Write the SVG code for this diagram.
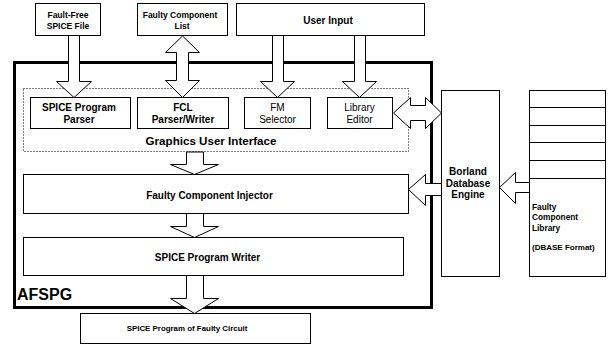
<svg xmlns="http://www.w3.org/2000/svg" width="608" height="355" viewBox="0 0 608 355">
  <style>
    .box { fill: #fff; stroke: #000; stroke-width: 1; }
    .arrow { fill: #fff; stroke: #000; stroke-width: 1; stroke-linejoin: miter; }
    .t { font-family: "Liberation Sans", Arial, sans-serif; fill: #000; text-anchor: middle; }
    .b { font-weight: bold; }
    .s85 { font-size: 8.5px; }
    .s10 { font-size: 10px; }
  </style>
  <rect width="608" height="355" fill="#fff"/>

  <!-- AFSPG frame -->
  <g id="afspg">
    <rect x="14.5" y="62.5" width="417" height="245" fill="none" stroke="#000" stroke-width="3"/>
    <text class="t b" x="17" y="300" font-size="16" text-anchor="start" style="text-anchor:start">AFSPG</text>
  </g>

  <!-- Graphics User Interface (dotted group) -->
  <g id="gui">
    <rect x="23.5" y="88.5" width="385" height="63" fill="none" stroke="#000" stroke-width="1" stroke-dasharray="1,2"/>
    <text class="t b" x="211" y="145" font-size="11.6">Graphics User Interface</text>
  </g>

  <g id="fault-free">
    <rect class="box" x="35.5" y="3.5" width="65" height="32"/>
    <text class="t b s85" x="68" y="18">Fault-Free</text>
    <text class="t b s85" x="68" y="29">SPICE File</text>
  </g>
  <g id="fcl-list">
    <rect class="box" x="137.5" y="3.5" width="90" height="32"/>
    <text class="t b s85" x="180" y="18">Faulty Component</text>
    <text class="t b s85" x="182" y="29">List</text>
  </g>
  <g id="user-input">
    <rect class="box" x="236.5" y="3.5" width="188" height="32"/>
    <text class="t b s10" x="328" y="23.5">User Input</text>
  </g>

  <g id="spice-parser">
    <rect class="box" x="30.5" y="97.5" width="100" height="31"/>
    <text class="t b s10" x="79" y="111">SPICE Program</text>
    <text class="t b s10" x="79" y="122.5">Parser</text>
  </g>
  <g id="fcl-parser">
    <rect class="box" x="137.5" y="97.5" width="91" height="31"/>
    <text class="t b s10" x="183" y="111">FCL</text>
    <text class="t b s10" x="183" y="122.5">Parser/Writer</text>
  </g>
  <g id="fm-selector">
    <rect class="box" x="244.5" y="97.5" width="66" height="31"/>
    <text class="t s10" x="277.5" y="111">FM</text>
    <text class="t s10" x="277.5" y="122.5">Selector</text>
  </g>
  <g id="library-editor">
    <rect class="box" x="327.5" y="97.5" width="65" height="31"/>
    <text class="t s10" x="359.5" y="111">Library</text>
    <text class="t s10" x="359.5" y="122.5">Editor</text>
  </g>

  <g id="injector">
    <rect class="box" x="23.5" y="174.5" width="385" height="39"/>
    <text class="t b s10" x="209.5" y="198.5">Faulty Component Injector</text>
  </g>
  <g id="writer">
    <rect class="box" x="23.5" y="237.5" width="380" height="38"/>
    <text class="t b s10" x="207.5" y="260.5">SPICE Program Writer</text>
  </g>
  <g id="output">
    <rect class="box" x="80.5" y="313.5" width="230" height="30"/>
    <text class="t b" x="187" y="331" font-size="7.9">SPICE Program of Faulty Circuit</text>
  </g>

  <g id="borland">
    <rect class="box" x="441.5" y="90.5" width="58" height="186"/>
    <text class="t b s10" x="468" y="174.5">Borland</text>
    <text class="t b s10" x="468" y="186.5">Database</text>
    <text class="t b s10" x="468" y="198">Engine</text>
  </g>

  <g id="fcl-library">
    <rect class="box" x="529.5" y="90.5" width="76" height="186"/>
    <path d="M529.5 107.5H605.5M529.5 125.5H605.5M529.5 142.5H605.5M529.5 160.5H605.5M529.5 178.5H605.5" stroke="#000" stroke-width="1" fill="none"/>
    <text class="t b" x="532" y="209.5" font-size="8.3" style="text-anchor:start">Faulty</text>
    <text class="t b" x="532" y="220" font-size="8.3" style="text-anchor:start">Component</text>
    <text class="t b" x="532" y="230.5" font-size="8.3" style="text-anchor:start">Library</text>
    <text class="t b" x="532" y="250" font-size="8" style="text-anchor:start">(DBASE Format)</text>
  </g>

  <!-- block arrows -->
  <g id="connectors">
    <!-- Fault-Free SPICE File -> SPICE Program Parser -->
    <polygon class="arrow" points="68.5,35.5 79.5,35.5 79.5,81.5 91.5,81.5 74,97.5 56.5,81.5 68.5,81.5"/>
    <!-- Faulty Component List <-> FCL Parser/Writer -->
    <polygon class="arrow" points="182.5,36 199.5,52.5 188.5,52.5 188.5,80.5 199.5,80.5 182.5,97.5 165.5,80.5 176.5,80.5 176.5,52.5 165.5,52.5"/>
    <!-- User Input -> FM Selector -->
    <polygon class="arrow" points="272.5,35.5 283.5,35.5 283.5,81.5 294.5,81.5 277.5,97.5 260.5,81.5 272.5,81.5"/>
    <!-- User Input -> Library Editor -->
    <polygon class="arrow" points="354.5,35.5 365.5,35.5 365.5,81.5 376.5,81.5 359.5,97.5 342.5,81.5 354.5,81.5"/>
    <!-- Library Editor <-> Borland Database Engine -->
    <polygon class="arrow" points="393.5,113 410.5,97.5 410.5,105.5 425.5,105.5 425.5,97.5 441.5,113 425.5,128.5 425.5,120.5 410.5,120.5 410.5,128.5"/>
    <!-- GUI -> Faulty Component Injector -->
    <polygon class="arrow" points="186.5,152 203.5,152 203.5,164.5 218.5,164.5 194.5,174.5 170.5,164.5 186.5,164.5"/>
    <!-- Faulty Component Injector -> SPICE Program Writer -->
    <polygon class="arrow" points="186.5,213.5 203.5,213.5 203.5,226.5 218.5,226.5 194.5,237.5 170.5,226.5 186.5,226.5"/>
    <!-- SPICE Program Writer -> SPICE Program of Faulty Circuit -->
    <polygon class="arrow" points="186.5,275.5 203.5,275.5 203.5,298.5 218.5,298.5 194.5,313.5 170.5,298.5 186.5,298.5"/>
    <!-- Borland Database Engine -> Faulty Component Injector -->
    <polygon class="arrow" points="441.5,183.5 441.5,195.5 425.5,195.5 425.5,205.5 408.5,189.5 425.5,174.5 425.5,183.5"/>
    <!-- Faulty Component Library -> Borland Database Engine -->
    <polygon class="arrow" points="529.5,182.5 529.5,192.5 515.5,192.5 515.5,203.5 499.5,187.5 515.5,172.5 515.5,182.5"/>
  </g>
</svg>
